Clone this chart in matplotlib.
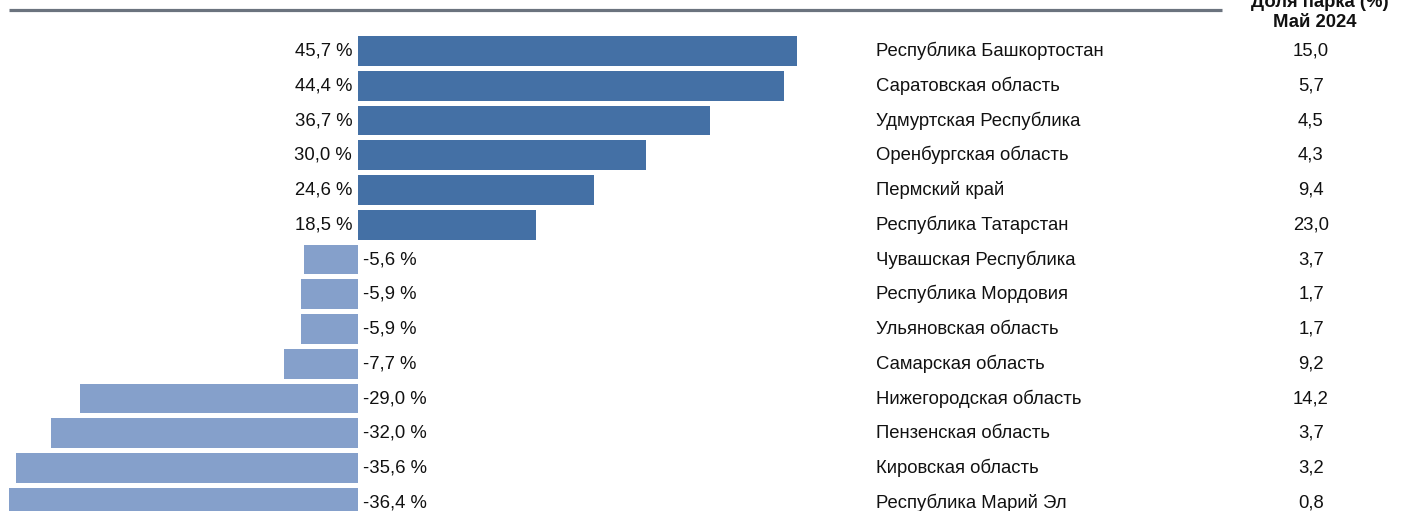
import matplotlib.pyplot as plt
import numpy as np

plt.rcParams['font.family'] = ['Liberation Sans', 'DejaVu Sans']

# Data
regions = [
    "Республика Башкортостан", "Саратовская область", "Удмуртская Республика",
    "Оренбургская область", "Пермский край", "Республика Татарстан",
    "Чувашская Республика", "Республика Мордовия", "Ульяновская область",
    "Самарская область", "Нижегородская область", "Пензенская область",
    "Кировская область", "Республика Марий Эл",
]
change = [45.7, 44.4, 36.7, 30.0, 24.6, 18.5, -5.6, -5.9, -5.9, -7.7,
          -29.0, -32.0, -35.6, -36.4]
share = [15.0, 5.7, 4.5, 4.3, 9.4, 23.0, 3.7, 1.7, 1.7, 9.2, 14.2, 3.7, 3.2, 0.8]

W, H = 1402, 511
fig = plt.figure(figsize=(W / 100, H / 100), dpi=100)
ax = fig.add_axes([0, 0, 1, 1])

# pixel layout: zero line at x=358, 9.6 px per %, rows 34.75 px apart
px_per = 9.6
x0 = 358
row0, pitch = 51, 34.75
ax.set_xlim(-x0 / px_per, (W - x0) / px_per)
ax.set_ylim((H - row0) / pitch, -row0 / pitch)
ax.axis('off')

pos_col = '#4470a5'
neg_col = '#85a0cb'
y = np.arange(len(regions))
colors = [pos_col if v > 0 else neg_col for v in change]
ax.barh(y, change, height=0.85, color=colors)

def fmt(v):
    return f"{v:.1f}".replace('.', ',')

fs = 13.3
tc = '#111111'
xr = (876 - x0) / px_per
xs = (1311 - x0) / px_per
for i, v in enumerate(change):
    if v > 0:
        ax.text(-0.6, i, fmt(v) + " %", ha='right', va='center', fontsize=fs, color=tc)
    else:
        ax.text(0.5, i, fmt(v) + " %", ha='left', va='center', fontsize=fs, color=tc)
    ax.text(xr, i, regions[i], ha='left', va='center', fontsize=fs, color=tc)
    ax.text(xs, i, fmt(share[i]), ha='center', va='center', fontsize=fs, color=tc)

# header rule and column header (top line is cut by the frame, as in the source)
ax.plot([(9 - x0) / px_per, (1222 - x0) / px_per], [(10 - row0) / pitch] * 2,
        color='#6b737e', lw=2.3, solid_capstyle='butt', clip_on=False)
fig.text(1315 / W, 1 - 27 / H, "Май 2024", ha='center', va='baseline',
         fontsize=fs, fontweight='bold', color=tc)
fig.text(1320 / W, 1 - 7 / H, "Доля парка (%)", ha='center', va='baseline',
         fontsize=fs, fontweight='bold', color=tc)

fig.savefig('out.png', dpi=100)
